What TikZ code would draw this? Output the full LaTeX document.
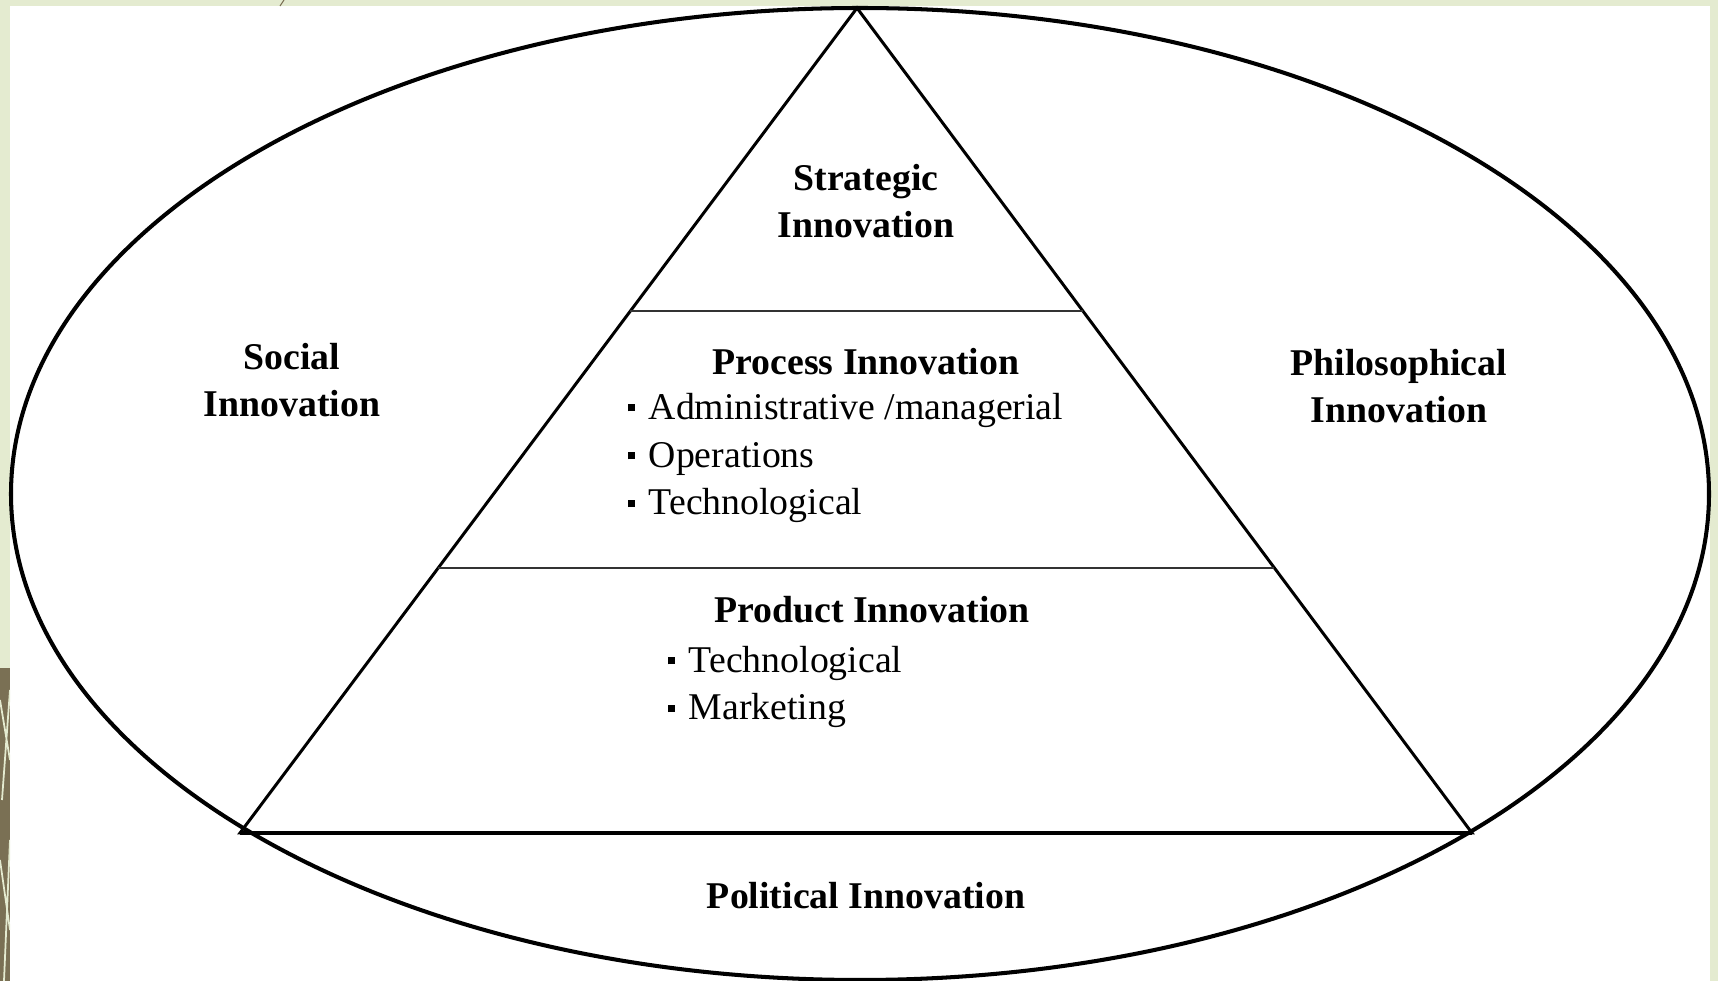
\documentclass[tikz,border=0pt]{standalone}
\usepackage{fontspec}
\setmainfont{Liberation Serif}
\usetikzlibrary{positioning,calc}
\definecolor{slidegreen}{RGB}{228,235,208}
\definecolor{slidebrown}{RGB}{122,112,84}
\newcommand{\sqbul}{\raisebox{2.2pt}{\rule{2pt}{2pt}}\hspace{4pt}}

\begin{document}
\begin{tikzpicture}[x=0.1mm,y=-0.1mm,
  title/.style={font=\fontsize{10.75}{13.4}\selectfont\bfseries, align=center, inner sep=0pt},
  items/.style={font=\fontsize{10.75}{13.6}\selectfont, align=left, inner sep=0pt}]
\useasboundingbox (0,0) rectangle (1718,981);
\fill[slidegreen] (0,0) rectangle (1718,981);
\fill[white] (10,6) rectangle (1710,981);
\draw[slidebrown, line width=0.3pt] (280,6) -- (284,0);
% left strip of the slide
\begin{scope}
\clip (0,668) rectangle (10,981);
\fill[slidebrown] (0,668) rectangle (10,981);
\draw[slidegreen, line width=0.5pt] (0,700) -- (10,760) (10,690) -- (2,800) (0,860) -- (10,930) (10,840) -- (4,981);
\end{scope}

\draw[line width=1.15pt] (860,494) ellipse [x radius=84.9mm, y radius=48.6mm];

\coordinate (apex) at (857,8);
\coordinate (bl) at (240,833);
\coordinate (br) at (1472,833);
\draw[line width=0.85pt] (apex) -- (bl) -- (br) -- cycle;
\draw[line width=1pt] (bl) -- (br);
\draw[line width=0.6pt, black!80] ($(apex)!0.3673!(bl)$) -- ($(apex)!0.3673!(br)$);
\draw[line width=0.6pt, black!80] ($(apex)!0.6788!(bl)$) -- ($(apex)!0.6788!(br)$);

\node[title] (strategic) at (866,201) {Strategic\\Innovation};
\node[title] (social) at (292,380) {Social\\Innovation};
\node[title] (philosophical) at (1399,386) {Philosophical\\Innovation};
\node[title] (process) at (866,362) {Process Innovation};
\node[items, anchor=west] (processitems) at (627,458) {\sqbul Administrative /managerial\\\sqbul Operations\\\sqbul Technological};
\node[title] (product) at (872,610) {Product Innovation};
\node[items, anchor=west] (productitems) at (667,687) {\sqbul Technological\\\sqbul Marketing};
\node[title] (political) at (866,896) {Political Innovation};
\end{tikzpicture}
\end{document}
